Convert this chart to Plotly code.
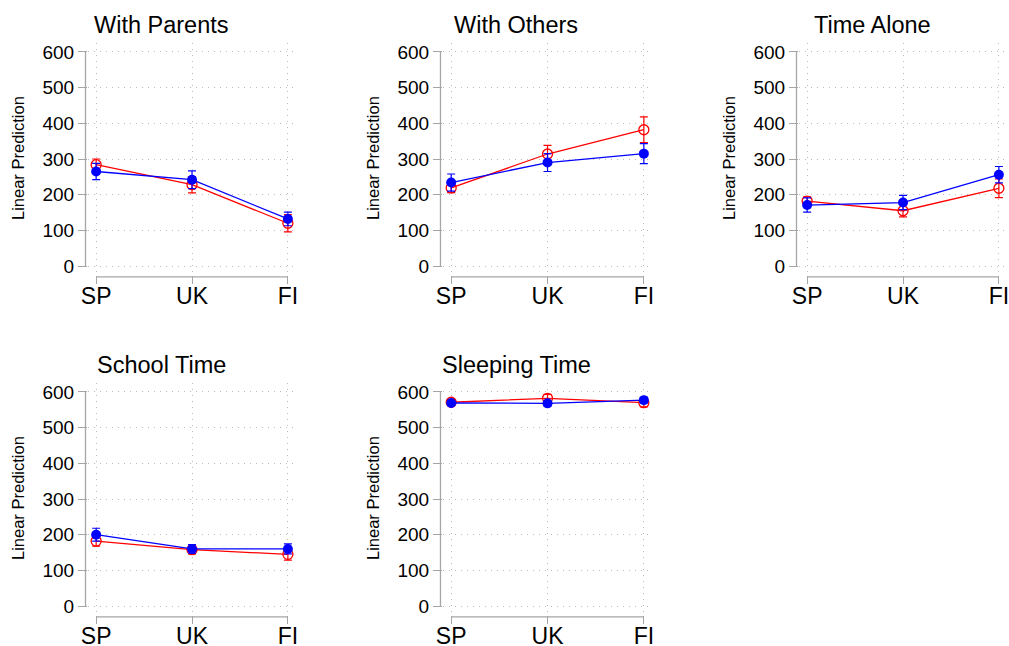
import plotly.graph_objects as go

W, H = 1009, 646

categories = ["SP", "UK", "FI"]
cat_pos = [0, 1, 2]
titles = ["With Parents", "With Others", "Time Alone", "School Time", "Sleeping Time"]

red_vals = [
    [284, 228, 120],
    [219, 314, 382],
    [182, 155, 218],
    [182, 158, 145],
    [571, 582, 570],
]
red_err = [
    [16, 23, 24],
    [13, 24, 36],
    [12, 17, 26],
    [14, 12, 16],
    [8, 11, 12],
]
blue_vals = [
    [265, 242, 132],
    [234, 290, 315],
    [171, 178, 256],
    [200, 160, 160],
    [569, 568, 577],
]
blue_err = [
    [23, 25, 19],
    [24, 25, 28],
    [20, 20, 23],
    [18, 12, 14],
    [7, 7, 8],
]
y_ticks = [0, 100, 200, 300, 400, 500, 600]

RED = "#ff0000"
BLUE = "#0000ff"
FONT = "Liberation Sans, Arial, Helvetica, sans-serif"
AXCOL = "#a6a6a6"
GRIDCOL = "#bdbdbd"

# plot-region pixel boxes (left, right, top, bottom)
col_px = [(88, 297), (443, 653), (799, 1008)]
row_px = [(43, 275), (383, 615)]
panel_grid = [(0, 0), (0, 1), (0, 2), (1, 0), (1, 1)]

fig = go.Figure()
shapes = []
annotations = []

for i, (r, c) in enumerate(panel_grid):
    n = i + 1
    xa = "x" if n == 1 else f"x{n}"
    ya = "y" if n == 1 else f"y{n}"
    l, rr = col_px[c]
    t, b = row_px[r]

    fig.add_trace(go.Scatter(
        x=cat_pos, y=red_vals[i], xaxis=xa, yaxis=ya, mode="lines+markers",
        line=dict(color=RED, width=1.3),
        marker=dict(symbol="circle-open", size=10, color=RED, line=dict(width=1.3, color=RED)),
        error_y=dict(type="data", array=red_err[i], color=RED, thickness=1.2, width=4),
        showlegend=False, hoverinfo="skip", cliponaxis=False))
    fig.add_trace(go.Scatter(
        x=cat_pos, y=blue_vals[i], xaxis=xa, yaxis=ya, mode="lines+markers",
        line=dict(color=BLUE, width=1.3),
        marker=dict(symbol="circle", size=10, color=BLUE),
        error_y=dict(type="data", array=blue_err[i], color=BLUE, thickness=1.2, width=4),
        showlegend=False, hoverinfo="skip", cliponaxis=False))

    xkey = "xaxis" if n == 1 else f"xaxis{n}"
    ykey = "yaxis" if n == 1 else f"yaxis{n}"
    fig.update_layout(**{
        xkey: dict(
            domain=[l / W, rr / W], anchor=ya, range=[-0.085, 2.095],
            tickmode="array", tickvals=cat_pos, ticktext=categories,
            ticks="outside", ticklen=8, tickcolor=AXCOL, tickwidth=1.2,
            ticklabelstandoff=-8, ticklabeloverflow="allow",
            showline=False, zeroline=False, automargin=False,
            showgrid=True, gridcolor=GRIDCOL, griddash="1px,5px", gridwidth=1,
            tickfont=dict(size=23, color="black", family=FONT), fixedrange=True),
        ykey: dict(
            domain=[1 - b / H, 1 - t / H], anchor=xa, range=[-25, 625],
            tickmode="array", tickvals=y_ticks,
            ticks="outside", ticklen=9, tickcolor=AXCOL, tickwidth=1.2,
            ticklabeloverflow="allow",
            showline=False, zeroline=False, automargin=False,
            showgrid=True, gridcolor=GRIDCOL, griddash="1px,5px", gridwidth=1,
            tickfont=dict(size=19, color="black", family=FONT), fixedrange=True),
    })

    # Stata-style axis lines spanning only the data range
    shapes.append(dict(type="line", xref=f"{xa} domain", yref=ya,
                       x0=-0.012, x1=-0.012, y0=0, y1=600,
                       line=dict(color=AXCOL, width=1.3)))
    shapes.append(dict(type="line", xref=xa, yref=f"{ya} domain",
                       x0=0, x1=2, y0=-0.008, y1=-0.008,
                       line=dict(color=AXCOL, width=1.3)))

    # panel title
    annotations.append(dict(text=titles[i], xref="paper", yref="paper",
                            x=(l - 88 + 161) / W, y=1 - (t - 18) / H,
                            xanchor="center", yanchor="middle", showarrow=False,
                            font=dict(size=23.5, color="black", family=FONT)))
    # y axis title
    annotations.append(dict(text="Linear Prediction", xref="paper", yref="paper",
                            x=(l - 70) / W, y=1 - ((t + b) / 2 - 1) / H,
                            xanchor="center", yanchor="middle", showarrow=False,
                            textangle=-90,
                            font=dict(size=16.5, color="black", family=FONT)))

fig.update_layout(
    width=W, height=H, margin=dict(l=0, r=0, t=0, b=0, autoexpand=False),
    paper_bgcolor="white", plot_bgcolor="white",
    shapes=shapes, annotations=annotations, showlegend=False,
    font=dict(family=FONT),
)

fig.write_html("out.html", config={"displayModeBar": False})

# remove the browser's default page margin so the figure sits at (0, 0)
with open("out.html", "r", encoding="utf-8") as f:
    html = f.read()
html = html.replace("<body>", '<body style="margin:0;padding:0;overflow:hidden">', 1)
with open("out.html", "w", encoding="utf-8") as f:
    f.write(html)
